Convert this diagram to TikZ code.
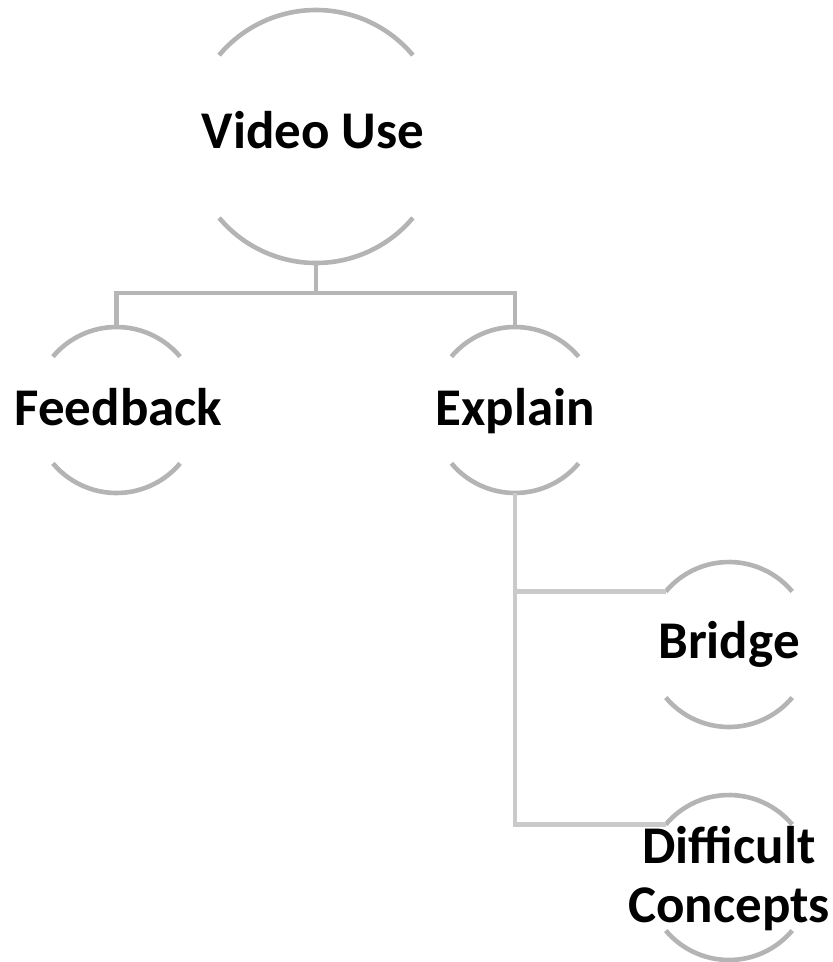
\documentclass[tikz,border=0pt]{standalone}
\usepackage{fontspec}
\setmainfont{Carlito}
\usetikzlibrary{calc}
\definecolor{arcgray}{RGB}{180,180,180}
\definecolor{linkA}{RGB}{182,182,182}
\definecolor{linkB}{RGB}{202,202,202}
\tikzset{
  lbl/.style={font=\fontsize{53}{59}\selectfont\bfseries, text=black, inner sep=0pt, align=center},
  arcs/.style={draw=arcgray, line width=4.6pt},
  linkone/.style={draw=linkA, line width=4.6pt},
  linktwo/.style={draw=linkB, line width=4.6pt},
}
\newcommand{\bubble}[4]{% name, cx, cy(px, down), radius
  \coordinate (#1) at (#2,-#3);
  \draw[arcs] ($(#1)+(40:#4pt)$) arc[start angle=40, end angle=140, radius=#4pt];
  \draw[arcs] ($(#1)+(220:#4pt)$) arc[start angle=220, end angle=320, radius=#4pt];
  \coordinate (#1-top) at ($(#1)+(0,#4)$);
  \coordinate (#1-bot) at ($(#1)+(0,-#4)$);
  \coordinate (#1-tl) at ($(#1)+(140:#4pt)$);
}
\begin{document}
\begin{tikzpicture}[x=1pt,y=1pt]
\useasboundingbox (0,0) rectangle (833,-962);
% bubbles
\bubble{vu}{316}{136.5}{126.5}
\bubble{fb}{116.5}{410}{83}
\bubble{ex}{515}{410}{83}
\bubble{br}{729}{644.5}{82.5}
\bubble{dc}{729}{877.5}{82.5}
% labels
\node[lbl, anchor=base] (vuL) at (313,-148) {Video Use};
\node[lbl, anchor=base] (fbL) at (118.5,-425) {Feedback};
\node[lbl, anchor=base] (exL) at (515,-425) {Explain};
\node[lbl, anchor=base] (brL) at (729,-658) {Bridge};
\node[lbl, anchor=north] (dcL) at (729,-826) {Difficult\\Concepts};
% connectors
\coordinate (bus) at (316,-293);
\draw[linkone] (vu-bot) -- (bus);
\draw[linkone] (fb-top) |- (bus) -| (ex-top);
\coordinate (j1) at (515,-591.5);
\draw[linktwo] (ex-bot) |- (dc-tl);
\draw[linktwo] (j1) -- (br-tl);
\end{tikzpicture}
\end{document}
